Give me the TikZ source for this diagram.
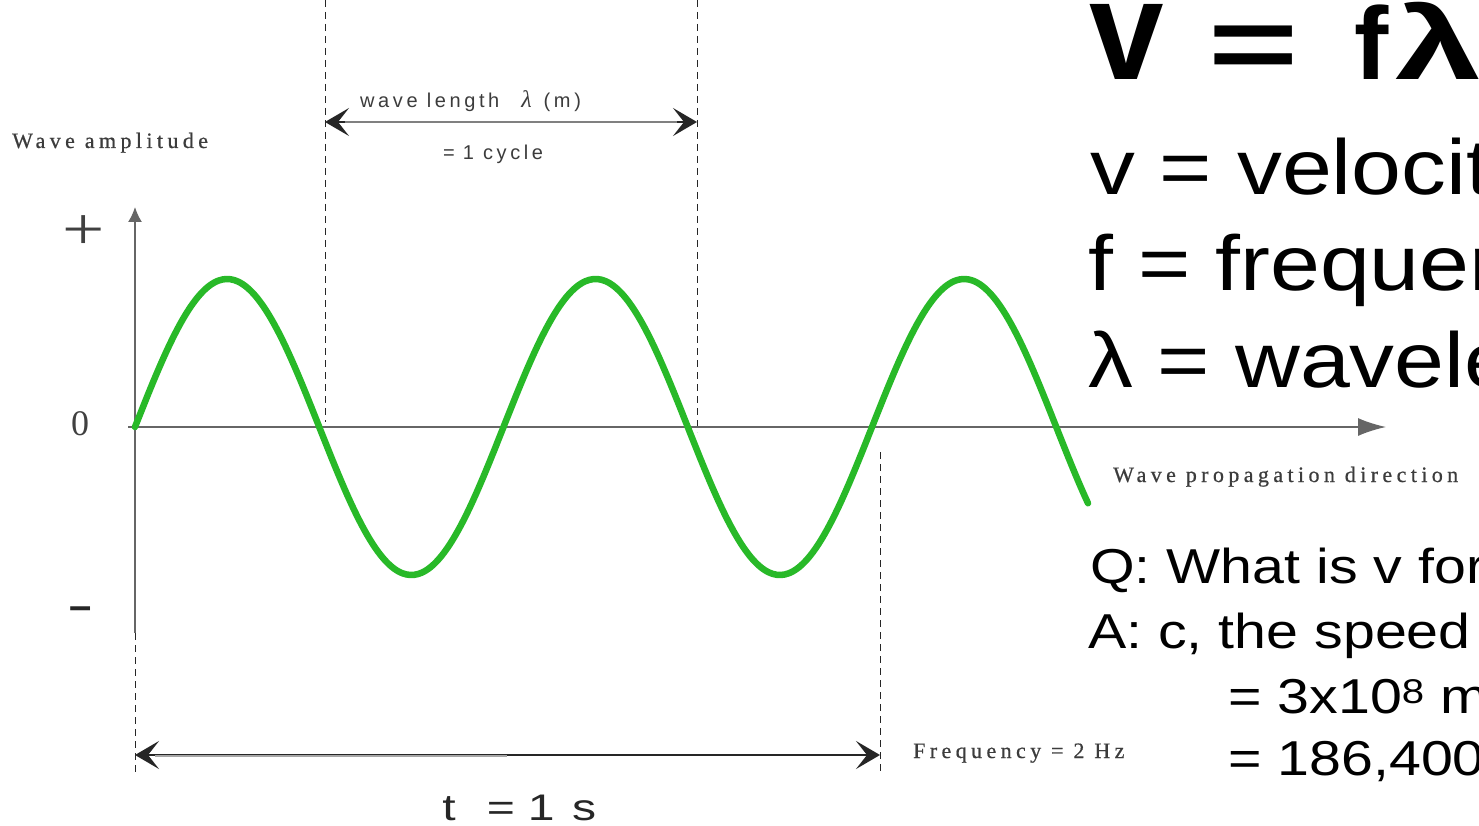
\documentclass[tikz,border=0pt]{standalone}
\usepackage{fontspec}
\usepackage{graphicx}
\setmainfont{Liberation Sans}
\newfontfamily\labfont[LetterSpace=20,FakeBold=0.6]{Liberation Serif}
\newfontfamily\plainserif{Liberation Serif}
\newfontfamily\sanslab[LetterSpace=18]{Liberation Sans}
\usetikzlibrary{arrows.meta}
\definecolor{wavegreen}{RGB}{40,185,40}
\definecolor{labgray}{RGB}{60,60,60}
\tikzset{
  axisline/.style={draw=black!60, line width=1.6pt},
  guide/.style={draw=black!85, line width=1pt, dash pattern=on 7pt off 5pt},
  wave/.style={draw=wavegreen, line width=6.5pt, line cap=round, line join=round},
  barb/.tip={Stealth[length=24pt,width=28pt,inset=11pt]},
  dimarrow/.style={draw=black!85, line width=2pt, {barb}-{barb}},
  smalllab/.style={font=\labfont\fontsize{22}{24}\selectfont, text=labgray, inner sep=0, anchor=base west},
  sanslabel/.style={font=\sanslab\fontsize{20}{24}\selectfont, text=labgray, inner sep=0, anchor=base west},
  bigtxt/.style={font=\fontsize{78}{90}\selectfont, xscale=1.15, inner sep=0, anchor=base west},
  qatxt/.style={font=\fontsize{49}{56}\selectfont, xscale=1.17, inner sep=0, anchor=base west},
  titletxt/.style={font=\bfseries\fontsize{103}{120}\selectfont, inner sep=0, anchor=base west}
}
\begin{document}
\begin{tikzpicture}[x=1pt,y=-1pt]
\clip (0,0) rectangle (1479,826);
\fill[white] (0,0) rectangle (1479,826);

% coordinates
\coordinate (o) at (135,427);
\coordinate (ytop) at (135,207);
\coordinate (ybot) at (135,633);
\coordinate (xleft) at (128,427);
\coordinate (xright) at (1386,427);
\coordinate (wlTop) at (325,0);
\coordinate (wlBot) at (325,422);
\coordinate (wrTop) at (697,0);
\coordinate (wrBot) at (697,432);
\coordinate (frTop) at (880,452);
\coordinate (frBot) at (880,772);
\coordinate (tlTop) at (135,633);
\coordinate (tlBot) at (135,772);
\coordinate (wl) at (325,122);
\coordinate (wr) at (697,122);
\coordinate (wlin) at (345,122);
\coordinate (wrin) at (677,122);
\coordinate (tl) at (135,755);
\coordinate (tlin) at (155,756);
\coordinate (tm) at (507,756);
\coordinate (tr) at (880,755);

% guides
\draw[guide] (wlTop) -- (wlBot);
\draw[guide] (wrTop) -- (wrBot);
\draw[guide] (frTop) -- (frBot);
\draw[guide] (tlTop) -- (tlBot);

% axes
\draw[axisline, -{Latex[length=15pt,width=14pt]}] (ybot) -- (ytop);
\draw[axisline, -{Latex[length=28pt,width=18pt]}] (xleft) -- (xright);

% wave
\draw[wave] plot[domain=0:953, samples=240, smooth] ({\x+135}, {427-148*sin(\x/368.5*360)});

% dimension arrows
\draw[dimarrow] (wl) -- (wr);
\draw[draw=black!50, line width=2pt] (wlin) -- (wrin);
\draw[dimarrow] (tl) -- (tr);
\draw[draw=black!35, line width=2.2pt] (tlin) -- (tm);

% left labels
\node[smalllab] (amp) at (12,148) {Wave amplitude};
\node[inner sep=0, text=black!75, xscale=1.25, font=\plainserif\fontsize{60}{64}\selectfont] (plus) at (84,233) {+};
\node[inner sep=0, text=black!75, font=\plainserif\fontsize{36}{40}\selectfont] (zero) at (80,424) {0};
\node[inner sep=0, text=black!85, font=\bfseries\fontsize{40}{44}\selectfont] (minus) at (81,613) {–};

% wavelength labels
\node[sanslabel] (wlab) at (360,108) {wave length\hspace{22pt}{\plainserif\itshape\fontsize{24}{26}\selectfont λ}\hspace{12pt}(m)};
\node[sanslabel] (cyc) at (443,160) {=\hspace{8pt}1 cycle};

% bottom labels
\node[inner sep=0, anchor=base west, xscale=1.3, text=black!85, font=\fontsize{37}{40}\selectfont] (tlab) at (442,820) {t\hspace{24pt}=\hspace{10pt}1\hspace{13.5pt}s};
\node[smalllab] (freq) at (913,758) {Frequency = 2 Hz};
\node[smalllab] (prop) at (1113,482) {Wave propagation direction};

% right text
\node[titletxt] (title) at (1089,80) {\scalebox{1.3}[1.38]{v}\hspace{44.7pt}\scalebox{1.5}[1]{=}\hspace{55.5pt}f\hspace{7pt}\scalebox{1.5}[1]{λ}};
\node[bigtxt] (l1) at (1090,195) {v = velocity};
\node[bigtxt] (l2) at (1088,290) {f = frequency};
\node[bigtxt] (l3) at (1088,387) {λ = wavelength};
\node[qatxt] (q) at (1090,583) {Q: What is v for light?};
\node[qatxt] (a) at (1088,648) {A: c, the speed of light};
\node[qatxt] (a2) at (1228,713) {= 3x10\textsuperscript{8} m/s};
\node[qatxt] (a3) at (1228,775) {= 186,400 miles/s};
\end{tikzpicture}
\end{document}
